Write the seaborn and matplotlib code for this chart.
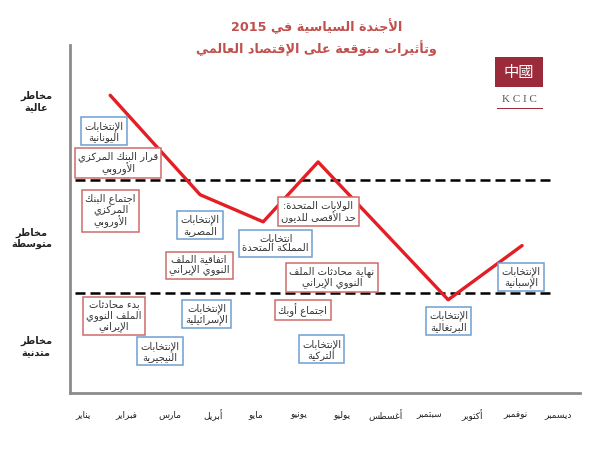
import re

import matplotlib
matplotlib.use("Agg")
import matplotlib.pyplot as plt
from matplotlib.patches import Rectangle
import seaborn as sns

# --- data -------------------------------------------------------------------
months = ["يناير", "فبراير", "مارس", "أبريل", "مايو", "يونيو",
          "يوليو", "أغسطس", "سبتمبر", "أكتوبر", "نوفمبر", "ديسمبر"]
risk_bands = ["مخاطر\nمتدنية", "مخاطر\nمتوسطة", "مخاطر\nعالية"]
band_edges = [1.0, 2.0]

trend_month = [0.63, 2.71, 4.17, 5.44, 8.45, 10.16]
trend_risk = [2.75, 1.87, 1.63, 2.16, 0.94, 1.42]

event_labels = [
    "الإنتخابات\nاليونانية",
    "قرار البنك المركزي\nالأوروبي",
    "اجتماع البنك\nالمركزي\nالأوروبي",
    "الإنتخابات\nالمصرية",
    "انتخابات\nالمملكة المتحدة",
    "الولايات المتحدة:\nحد الأقصى للديون",
    "اتفاقية الملف\nالنووي الإيراني",
    "نهاية محادثات الملف\nالنووي الإيراني",
    "الإنتخابات\nالإسبانية",
    "بدء محادثات\nالملف النووي\nالإيراني",
    "الإنتخابات\nالإسرائيلية",
    "اجتماع أوبك",
    "الإنتخابات\nالنيجيرية",
    "الإنتخابات\nالتركية",
    "الإنتخابات\nالبرتغالية",
]
event_kind = ["election", "economic", "economic", "election", "election",
              "economic", "economic", "economic", "election", "economic",
              "election", "economic", "election", "election", "election"]

# layout: where each event box sits (month, risk)
event_pos = [(0.49, 2.43), (0.81, 2.15), (0.64, 1.73), (2.71, 1.60),
             (4.46, 1.44), (5.44, 1.72), (2.69, 1.25), (5.76, 1.14),
             (10.14, 1.14), (0.72, 0.80), (2.86, 0.81), (5.09, 0.85),
             (1.78, 0.48), (5.52, 0.50), (8.46, 0.75)]
band_label_y = [0.54, 1.50, 2.71]

TITLE = "الأجندة السياسية في 2015\nوتأثيرات متوقعة على الإقتصاد العالمي"


# --- minimal Arabic shaping (no reshaper available offline) ------------------
def _build_forms():
    forms = {"ء": ("\ufe80",)}
    right_only = set("آأؤإاةدذرزوى")
    code = 0xFE81
    for ch in "آأؤإئابةتثجحخدذرزسشصضطظعغفقكلمنهوىي":
        n = 2 if ch in right_only else 4
        forms[ch] = tuple(chr(code + k) for k in range(n))
        code += n
    return forms


FORMS = _build_forms()
LAM_ALEF = {"آ": ("\ufef5", "\ufef6"), "أ": ("\ufef7", "\ufef8"),
            "إ": ("\ufef9", "\ufefa"), "ا": ("\ufefb", "\ufefc")}


def _dual(c):
    return c in FORMS and len(FORMS[c]) == 4


def ar(text):
    lines = []
    for line in text.split("\n"):
        out, i, n = [], 0, len(line)
        while i < n:
            c = line[i]
            if c not in FORMS:
                out.append(c)
                i += 1
                continue
            prev = i > 0 and _dual(line[i - 1])
            if c == "ل" and i + 1 < n and line[i + 1] in LAM_ALEF:
                out.append(LAM_ALEF[line[i + 1]][1 if prev else 0])
                i += 2
                continue
            nxt = _dual(c) and i + 1 < n and line[i + 1] in FORMS and line[i + 1] != "ء"
            if len(FORMS[c]) == 1:
                idx = 0
            elif prev:
                idx = 3 if nxt else 1
            else:
                idx = 2 if nxt else 0
            out.append(FORMS[c][idx])
            i += 1
        vis = "".join(reversed(out))
        vis = re.sub(r"[0-9A-Za-z.]+", lambda m: m.group(0)[::-1], vis)
        lines.append(vis)
    return "\n".join(lines)


# --- plot -------------------------------------------------------------------
sns.set_theme(style="white")
plt.rcParams["font.family"] = ["DejaVu Sans"]

fig = plt.figure(figsize=(5.92, 4.5), dpi=100)
ax = fig.add_axes([70 / 592, 57 / 450, 510 / 592, 348 / 450])

for y in band_edges:
    ax.axhline(y, xmin=0.01, xmax=0.95, color="black", lw=1.8,
               dashes=(4, 2), zorder=1)

sns.lineplot(x=trend_month, y=trend_risk, ax=ax, color="#e31e24",
             lw=2.4, sort=False, zorder=3)

edge = {"election": "#6f9fd3", "economic": "#cf6b6b"}
for label, kind, (mx, my) in zip(event_labels, event_kind, event_pos):
    ax.text(mx, my, ar(label), ha="center", va="center", multialignment="center",
            fontsize=7.2, color="#333333", linespacing=1.05, zorder=4,
            bbox=dict(boxstyle="square,pad=0.32", fc="white",
                      ec=edge[kind], lw=1.1))

ax.set_xlim(-0.3, 11.5)
ax.set_ylim(0.115, 3.195)
ax.set_xticks(range(len(months)))
ax.set_xticklabels([ar(m) for m in months], fontsize=6.5, color="#222222")
ax.set_yticks(band_label_y)
ax.set_yticklabels([ar(b) for b in risk_bands], fontsize=7, fontweight="bold",
                   color="#222222", multialignment="center")
ax.tick_params(axis="x", length=0, pad=12)
ax.tick_params(axis="y", length=0, pad=13)

sns.despine(ax=ax)
for side in ("left", "bottom"):
    ax.spines[side].set_color("#8c8c8c")
    ax.spines[side].set_linewidth(2)

fig.text(0.535, 0.918, ar(TITLE), ha="center", va="center",
         multialignment="center", fontsize=9.2, fontweight="bold",
         color="#c0504d", linespacing=1.5)

# KCIC logo
fig.patches.append(Rectangle((495 / 592, 1 - 87 / 450), 48 / 592, 30 / 450,
                             transform=fig.transFigure, fc="#9b2a3b", ec="none"))
fig.text(519 / 592, 1 - 72 / 450, "中國", ha="center", va="center",
         fontsize=11, color="white", family=["Noto Sans CJK TC", "DejaVu Sans"])
fig.text(519 / 592, 1 - 100 / 450, "K C I C", ha="center", va="center",
         fontsize=8, color="#555555", family=["Liberation Serif"])
fig.patches.append(Rectangle((497 / 592, 1 - 109 / 450), 46 / 592, 1.5 / 450,
                             transform=fig.transFigure, fc="#9b2a3b", ec="none"))

fig.savefig("out.png", dpi=100)
